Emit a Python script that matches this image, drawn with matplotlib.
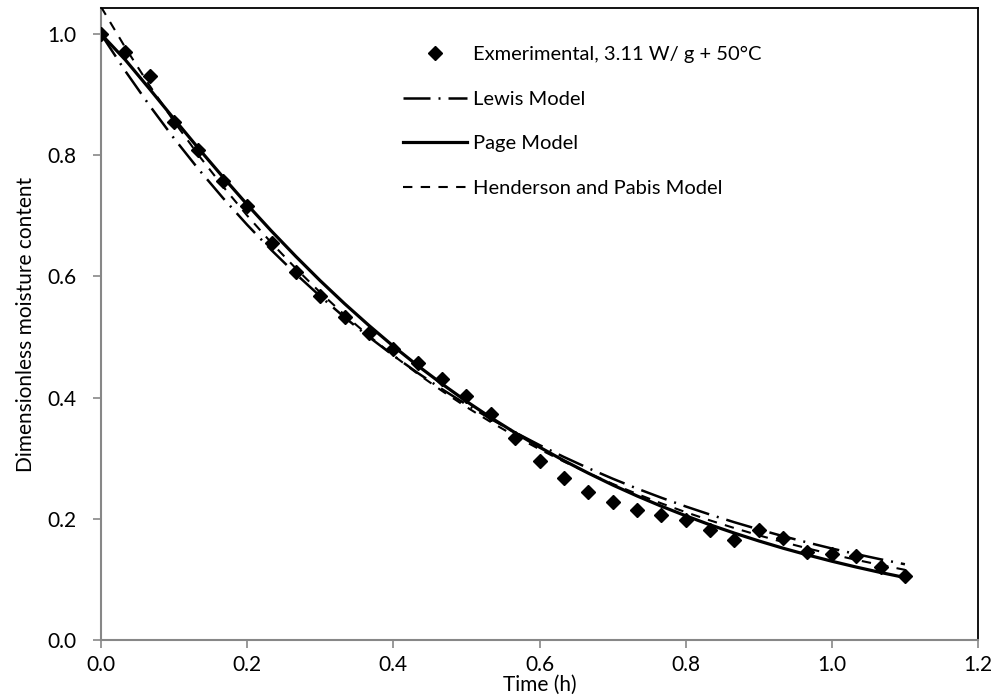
import matplotlib
matplotlib.use("Agg")
import matplotlib.pyplot as plt

plt.rcParams['font.family'] = ['Lato', 'DejaVu Sans']

# ---- data ----
time_h = [0.0, 0.0333, 0.0667, 0.1, 0.1333, 0.1667, 0.2, 0.2333, 0.2667, 0.3,
          0.3333, 0.3667, 0.4, 0.4333, 0.4667, 0.5, 0.5333, 0.5667, 0.6, 0.6333,
          0.6667, 0.7, 0.7333, 0.7667, 0.8, 0.8333, 0.8667, 0.9, 0.9333, 0.9667,
          1.0, 1.0333, 1.0667, 1.1]

experimental = [1.0, 0.970, 0.930, 0.855, 0.809, 0.758, 0.717, 0.655, 0.608, 0.567,
                0.533, 0.507, 0.481, 0.457, 0.430, 0.403, 0.373, 0.333, 0.295, 0.268,
                0.245, 0.227, 0.215, 0.206, 0.198, 0.181, 0.165, 0.182, 0.168, 0.146,
                0.142, 0.138, 0.120, 0.105]

lewis = [1.0, 0.9389, 0.8816, 0.8277, 0.7772, 0.7297, 0.6852, 0.6433, 0.6040, 0.5672,
         0.5325, 0.5000, 0.4695, 0.4408, 0.4139, 0.3886, 0.3649, 0.3426, 0.3217, 0.3021,
         0.2836, 0.2663, 0.2500, 0.2348, 0.2204, 0.2070, 0.1943, 0.1825, 0.1713, 0.1609,
         0.1510, 0.1418, 0.1332, 0.1250]

page = [1.0, 0.9574, 0.9091, 0.8599, 0.8115, 0.7643, 0.7186, 0.6748, 0.6329, 0.5929,
        0.5550, 0.5190, 0.4849, 0.4528, 0.4225, 0.3939, 0.3671, 0.3420, 0.3183, 0.2961,
        0.2754, 0.2559, 0.2378, 0.2208, 0.2050, 0.1901, 0.1764, 0.1635, 0.1515, 0.1404,
        0.1300, 0.1204, 0.1114, 0.1031]

henderson = [1.045, 0.9776, 0.9146, 0.8556, 0.8004, 0.7488, 0.7005, 0.6553, 0.6131, 0.5735,
             0.5365, 0.5019, 0.4696, 0.4393, 0.4110, 0.3845, 0.3597, 0.3365, 0.3148, 0.2945,
             0.2755, 0.2577, 0.2411, 0.2255, 0.2110, 0.1974, 0.1847, 0.1728, 0.1616, 0.1512,
             0.1414, 0.1323, 0.1238, 0.1158]

labels = ["Exmerimental, 3.11 W/ g + 50°C", "Lewis Model", "Page Model",
          "Henderson and Pabis Model"]
x_ticks = [0.0, 0.2, 0.4, 0.6, 0.8, 1.0, 1.2]
y_ticks = [0.0, 0.2, 0.4, 0.6, 0.8, 1.0]

# ---- figure ----
W, H = 997, 698
fig = plt.figure(figsize=(W / 100, H / 100), dpi=100)
ax = fig.add_axes([101 / W, 1 - 640 / H, (978 - 101) / W, (640 - 8) / H])

ax.plot(time_h, experimental, linestyle='none', marker='D', markersize=7.3,
        color='black', label=labels[0], zorder=3)
ax.plot(time_h, lewis, color='black', lw=1.8, dashes=(10.8, 3.2, 0.8, 3.2),
        label=labels[1], zorder=4)
ax.plot(time_h, page, color='black', lw=2.3, label=labels[2], zorder=5)
ax.plot(time_h, henderson, color='black', lw=1.5, dashes=(4.5, 4.0),
        label=labels[3], zorder=6)

ax.set_xlim(0, 1.2)
ax.set_ylim(0, 1.043)
ax.set_xticks(x_ticks)
ax.set_yticks(y_ticks)
ax.set_xticklabels([f"{v:.1f}" for v in x_ticks])
ax.set_yticklabels([f"{v:.1f}" for v in y_ticks])

gray = '#878787'
for s in ('left', 'bottom'):
    ax.spines[s].set_color(gray)
    ax.spines[s].set_linewidth(1.5)
for s in ('top', 'right'):
    ax.spines[s].set_color('black')
    ax.spines[s].set_linewidth(1.3)
ax.tick_params(axis='both', direction='out', length=6, width=1.2, color=gray,
               labelsize=15, labelcolor='black')
ax.tick_params(axis='x', pad=5)
ax.tick_params(axis='y', pad=12)

ax.set_xlabel("Time (h)", fontsize=15, labelpad=0)
ax.set_ylabel("Dimensionless moisture content", fontsize=15, labelpad=8)

leg = ax.legend(loc='upper left', bbox_to_anchor=(403 / W, 1 - 46 / H),
                bbox_transform=fig.transFigure, frameon=False, fontsize=14.5,
                handlelength=3.2, handletextpad=0.3, labelspacing=1.37,
                borderpad=0, borderaxespad=0, numpoints=1)

fig.savefig("out.png", dpi=100)
